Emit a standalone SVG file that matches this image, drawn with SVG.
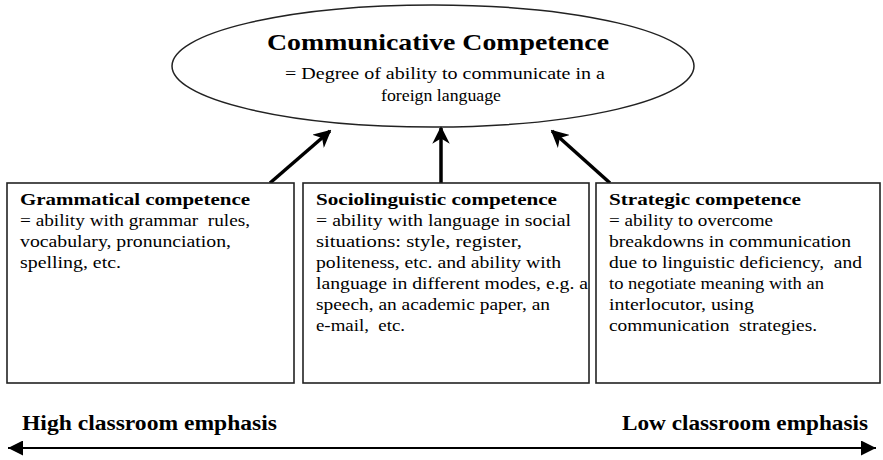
<svg xmlns="http://www.w3.org/2000/svg" width="883" height="460" viewBox="0 0 883 460">
<defs>
<style>
text{font-family:"Liberation Serif","Times New Roman",serif;fill:#000}
.h{font-weight:bold;font-size:17px}
.b{font-size:16px}
.box{fill:#fff;stroke:#222;stroke-width:1.6}
.arr{stroke:#000;stroke-width:3.5;fill:none}
</style>
<marker id="ah" viewBox="0 0 10 10" refX="9" refY="5" markerWidth="5" markerHeight="5" orient="auto" markerUnits="strokeWidth">
<path d="M0,0 L10,5 L0,10 L3,5 Z" fill="#000"/>
</marker>
<marker id="ah2" viewBox="0 0 10 10" refX="10" refY="5" markerWidth="15" markerHeight="15" orient="auto-start-reverse" markerUnits="userSpaceOnUse">
<path d="M0,0 L10,5 L0,10 Z" fill="#000"/>
</marker>
</defs>
<rect width="883" height="460" fill="#fff"/>
<g id="communicative">
<ellipse cx="433" cy="66" rx="261" ry="61" fill="#fff" stroke="#222" stroke-width="1.5"/>
<text x="438" y="50" text-anchor="middle" font-weight="bold" font-size="23" textLength="342" lengthAdjust="spacingAndGlyphs">Communicative Competence</text>
<text x="445" y="79" text-anchor="middle" font-size="16.5" textLength="320" lengthAdjust="spacingAndGlyphs">= Degree of ability to communicate in a</text>
<text x="441" y="101" text-anchor="middle" font-size="17" textLength="120" lengthAdjust="spacingAndGlyphs">foreign language</text>
</g>
<g id="connectors">
<line class="arr" x1="270" y1="183" x2="330" y2="131" marker-end="url(#ah)"/>
<line class="arr" x1="441" y1="183" x2="441" y2="128" marker-end="url(#ah)"/>
<line class="arr" x1="610" y1="183" x2="552" y2="131" marker-end="url(#ah)"/>
<line stroke="#000" stroke-width="2" x1="8" y1="448" x2="876" y2="448" marker-start="url(#ah2)" marker-end="url(#ah2)"/>
</g>
<g id="grammatical">
<rect class="box" x="7" y="183" width="287" height="200"/>
<text class="h" x="20" y="205" textLength="230" lengthAdjust="spacingAndGlyphs">Grammatical competence</text>
<text class="b" x="20" y="226" textLength="230" lengthAdjust="spacingAndGlyphs" xml:space="preserve">= ability with grammar  rules,</text>
<text class="b" x="20" y="247" textLength="211" lengthAdjust="spacingAndGlyphs">vocabulary, pronunciation,</text>
<text class="b" x="20" y="268" textLength="101" lengthAdjust="spacingAndGlyphs">spelling, etc.</text>
</g>
<g id="sociolinguistic">
<rect class="box" x="303" y="183" width="286" height="200"/>
<text class="h" x="316" y="205" textLength="241" lengthAdjust="spacingAndGlyphs">Sociolinguistic competence</text>
<text class="b" x="316" y="226" textLength="255" lengthAdjust="spacingAndGlyphs">= ability with language in social</text>
<text class="b" x="316" y="247" textLength="206" lengthAdjust="spacingAndGlyphs">situations: style, register,</text>
<text class="b" x="316" y="268" textLength="245" lengthAdjust="spacingAndGlyphs">politeness, etc. and ability with</text>
<text class="b" x="316" y="289" textLength="272" lengthAdjust="spacingAndGlyphs">language in different modes, e.g. a</text>
<text class="b" x="316" y="310" textLength="234" lengthAdjust="spacingAndGlyphs">speech, an academic paper, an</text>
<text class="b" x="316" y="331" textLength="89" lengthAdjust="spacingAndGlyphs" xml:space="preserve">e-mail,  etc.</text>
</g>
<g id="strategic">
<rect class="box" x="596" y="183" width="284" height="200"/>
<text class="h" x="609" y="205" textLength="192" lengthAdjust="spacingAndGlyphs">Strategic competence</text>
<text class="b" x="609" y="226" textLength="164" lengthAdjust="spacingAndGlyphs">= ability to overcome</text>
<text class="b" x="609" y="247" textLength="242" lengthAdjust="spacingAndGlyphs">breakdowns in communication</text>
<text class="b" x="609" y="268" textLength="253" lengthAdjust="spacingAndGlyphs" xml:space="preserve">due to linguistic deficiency,  and</text>
<text class="b" x="609" y="289" textLength="215" lengthAdjust="spacingAndGlyphs">to negotiate meaning with an</text>
<text class="b" x="609" y="310" textLength="145" lengthAdjust="spacingAndGlyphs">interlocutor, using</text>
<text class="b" x="609" y="331" textLength="208" lengthAdjust="spacingAndGlyphs" xml:space="preserve">communication  strategies.</text>
</g>
<g id="emphasis">
<text x="22" y="430" font-weight="bold" font-size="20" textLength="255" lengthAdjust="spacingAndGlyphs">High classroom emphasis</text>
<text x="622" y="430" font-weight="bold" font-size="20" textLength="246" lengthAdjust="spacingAndGlyphs">Low classroom emphasis</text>
</g>
</svg>
